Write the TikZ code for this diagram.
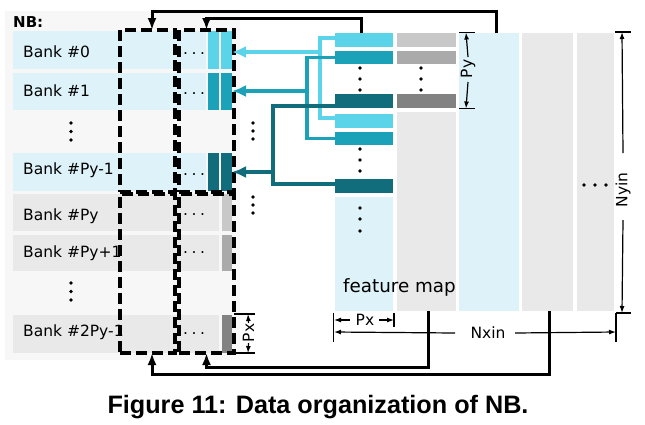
\documentclass[tikz,border=0pt]{standalone}
\usepackage{fontspec}
\setmainfont{DejaVu Sans}
\newfontfamily\capfont{Liberation Sans}
\usetikzlibrary{arrows.meta}
\definecolor{nbbg}{HTML}{F7F7F7}
\definecolor{lb}{HTML}{DDF3F9}
\definecolor{lg}{HTML}{E9E9E9}
\definecolor{ca}{HTML}{5BD3E8}
\definecolor{cb}{HTML}{1BA2B8}
\definecolor{cc}{HTML}{116C7C}
\definecolor{ga}{HTML}{C8C8C8}
\definecolor{gb}{HTML}{AAAAAA}
\definecolor{gc}{HTML}{828282}
% name, x1, y1, x2, y2, fill
\newcommand\blk[6]{\node[draw=none,fill=#6,inner sep=0pt,outer sep=0pt,minimum width={(#4-#2)*1pt},minimum height={(#5-#3)*1pt},anchor=north west] (#1) at (#2,#3) {};}
\newcommand\dbx[5]{\node[dbox,minimum width={(#4-#2)*1pt},minimum height={(#5-#3)*1pt},anchor=north west] (#1) at (#2,#3) {};}
\begin{document}
\begin{tikzpicture}[x=1pt,y=-1pt,
  dbox/.style={draw=black,line width=3.4pt,dash pattern=on 11pt off 5pt,inner sep=0pt,outer sep=0pt},
  lbl/.style={font=\fontsize{15.5}{18}\selectfont,inner sep=0pt},
  conn/.style={line width=3pt,draw=black,-{Latex[length=12pt,width=9pt]}},
  cline/.style={line width=3.4pt},
  cconn/.style={line width=3.4pt,-{Latex[length=14pt,width=12pt]}},
  dim/.style={line width=1.2pt,-{Latex[length=7pt,width=5pt]}},
  tick/.style={line width=1.2pt},
  dotc/.style={fill=black}]
\useasboundingbox (0,0) rectangle (645,424);
% NB background
\blk{nb}{5}{11}{240}{360}{nbbg}
% upper banks
\blk{r0}{13}{31}{206}{69}{lb}
\blk{s0a}{208}{31}{219}{69}{ca}
\blk{s0b}{221}{31}{232}{69}{ca}
\blk{r1}{13}{73}{206}{110}{lb}
\blk{s1a}{208}{73}{219}{110}{cb}
\blk{s1b}{221}{73}{232}{110}{cb}
\blk{r3}{13}{153}{206}{191}{lb}
\blk{s3a}{208}{153}{219}{191}{cc}
\blk{s3b}{221}{153}{232}{191}{cc}
% lower banks
\blk{r4}{13}{194}{219}{231}{lg}
\blk{s4}{222}{194}{232}{231}{ga}
\blk{r5}{13}{235}{219}{271}{lg}
\blk{s5}{222}{235}{232}{271}{gb}
\blk{r7}{13}{315}{219}{353}{lg}
\blk{s7}{222}{315}{232}{353}{gc}
% texts in NB
\node[font=\bfseries\fontsize{15}{18}\selectfont,inner sep=0pt,anchor=base west] (nbl) at (13,27) {NB:};
\node[lbl,anchor=base west] (t0) at (23,57.5) {Bank \#0};
\node[lbl,anchor=base west] (t1) at (23,96.5) {Bank \#1};
\node[lbl,anchor=base west] (t3) at (23,174) {Bank \#Py-1};
\node[lbl,anchor=base west] (t4) at (23,220.5) {Bank \#Py};
\node[lbl,anchor=base west] (t5) at (23,257.5) {Bank \#Py+1};
\node[lbl,anchor=base west] (t7) at (23,336) {Bank \#2Py-1};
\foreach \n/\y in {e0/54,e1/94,e3/175,e4/215,e5/253,e7/334}
  \node[lbl,anchor=base] (\n) at (194,\y) {.\hspace{3.6pt}.\hspace{3.6pt}.};
% feature map
\blk{fa}{335}{33}{393}{47}{ca}
\blk{fb}{335}{51}{393}{64}{cb}
\blk{fc}{335}{94}{393}{108}{cc}
\blk{fd}{335}{114}{393}{128}{ca}
\blk{fe}{335}{132}{393}{145}{cb}
\blk{ff}{335}{179}{393}{193}{cc}
\blk{fg}{335}{197}{393}{311}{lb}
\blk{ga}{397}{33}{456}{47}{ga}
\blk{gb}{397}{51}{456}{64}{gb}
\blk{gc}{397}{94}{456}{108}{gc}
\blk{gd}{397}{112}{456}{311}{lg}
\blk{col3}{459}{33}{519}{311}{lb}
\blk{col4}{522}{33}{573}{311}{lg}
\blk{col5}{577}{33}{614}{311}{lg}
\node[font=\fontsize{18.3}{21}\selectfont,inner sep=0pt,anchor=base west] (fm) at (343,292) {feature map};
% dots
\foreach \p in {(71,123),(71,131.5),(71,140),(71,283),(71,291.5),(71,300),
  (253,123),(253,131),(253,139),(253,197),(253,205),(253,213),
  (360,68),(360,79),(360,90),(360,149),(360,160),(360,171),(360,208),(360,219),(360,231),
  (421,68),(421,79),(421,90),(584,185),(595,185),(606,185)}
  \fill[dotc] \p circle (1.8);
% dashed boxes
\dbx{nb1}{120}{30}{175}{192}
\dbx{nb2}{179}{30}{234}{192}
\dbx{nb3}{120}{194}{175}{353}
\dbx{nb4}{179}{194}{234}{353}
% coloured connectors
\coordinate (ja) at (320,52);
\coordinate (jb) at (307,91);
\coordinate (jc) at (273,172);
\draw[ca,cline] ([yshift=2pt]fa.west) -| (ja) |- ([yshift=3pt]fd.west);
\draw[ca,cconn] (ja) -- (s0b.east |- ja);
\draw[cb,cline] ([yshift=0pt]fb.west) -| (jb) |- ([yshift=0pt]fe.west);
\draw[cb,cconn] (jb) -- (s1b.east |- jb);
\draw[cc,cline] ([yshift=-5pt]fc.west) -| (jc) |- ([yshift=2pt]ff.west);
\draw[cc,cconn] (jc) -- (s3b.east |- jc);
% dimensions
\coordinate (pyt) at (466,32.5);
\coordinate (pyb) at (466,108.5);
\draw[tick] (459,32.5) -- (475,32.5);
\draw[tick] (459,108.5) -- (475,108.5);
\node[lbl,rotate=90] (pyl) at (468,69) {Py};
\draw[dim] ([yshift=12pt]pyl.center) -- (pyt);
\draw[dim] ([yshift=-13pt]pyl.center) -- (pyb);
\coordinate (nyt) at (622,32);
\coordinate (nyb) at (622,313);
\draw[tick] (615,32) -- (631,32);
\draw[tick] (616,313) -- (631,313);
\node[lbl,rotate=90] (nyl) at (623,190) {Nyin};
\draw[dim] ([yshift=37pt]nyl.center) -- (nyt);
\draw[dim] ([yshift=-30pt]nyl.center) -- (nyb);
\draw[tick] (333.5,313) -- (333.5,342);
\draw[tick] (616,313) -- (616,342);
\draw[tick] (394,313) -- (394,327);
\node[lbl] (nxl) at (488,333) {Nxin};
\draw[dim] ([xshift=-33pt]nxl.center) -- (334,332);
\draw[dim] ([xshift=27pt]nxl.center) -- (616,332);
\node[lbl] (pxl) at (365,320) {Px};
\draw[dim] ([xshift=-15pt]pxl.center) -- (334,320);
\draw[dim] ([xshift=14pt]pxl.center) -- (394,320);
\draw[tick] (234,314) -- (255,314);
\draw[tick] (234,353) -- (255,353);
\node[lbl,rotate=90] (pxn) at (248.5,333) {Px};
\draw[dim] ([yshift=10pt]pxn.center) -- (248,314);
\draw[dim] ([yshift=-10pt]pxn.center) -- (248,353);
% black connectors
\draw[conn] ([xshift=7pt]col3.north) -- ++(0,-22) -| ([xshift=4.5pt]nb1.north);
\draw[conn] ([xshift=-3pt]fa.north) -- ++(0,-15) -| (nb2.north);
\draw[conn] ([xshift=1.5pt]gd.south) -- ++(0,56) -| (nb4.south);
\draw[conn] ([xshift=1.5pt]col4.south) -- ++(0,63) -| ([xshift=4.5pt]nb3.south);
% caption
\node[font=\capfont\bfseries\fontsize{25.2}{29}\selectfont,inner sep=0pt] (cap) at (318,407) {Figure 11: Data organization of NB.};
\end{tikzpicture}
\end{document}
